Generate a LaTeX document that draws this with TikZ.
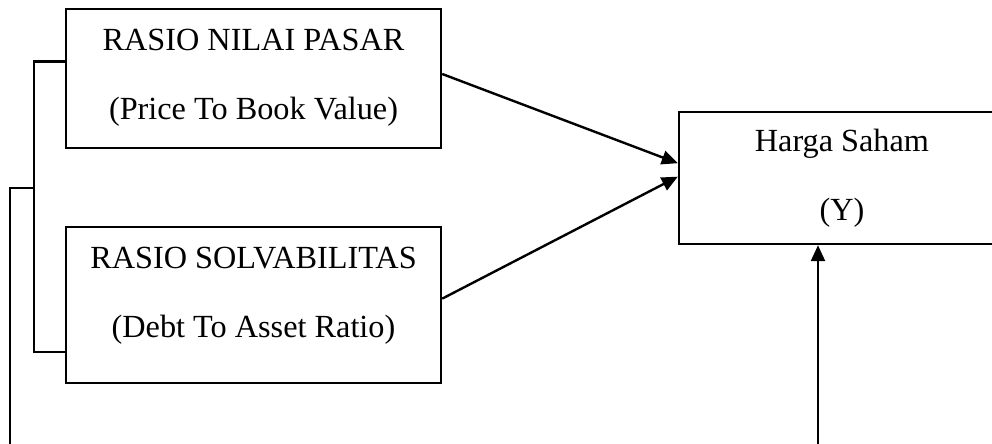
\documentclass[tikz,border=0pt]{standalone}
\usepackage{fontspec}
\setmainfont{Liberation Serif}
\usetikzlibrary{arrows.meta,calc}

\tikzset{every picture/.style={line width=1.8pt}}
\tikzset{
  varbox/.style={draw, rectangle, align=center, inner sep=0.75pt,
    font=\fontsize{24.2}{52}\selectfont},
  flow/.style={-{Triangle[length=12pt,width=10.5pt]}}
}

\begin{document}
\begin{tikzpicture}[x=0.75pt,y=0.75pt,yscale=-1,xscale=1]
\useasboundingbox (0,0) rectangle (992,443);
\clip (0,0) rectangle (992,443);

%Shape: Rectangle [id:pbv]
\node [varbox, minimum width=281.25pt, minimum height=104.25pt, text depth=6pt] (pbv) at (253.5,78.5)
  {RASIO NILAI PASAR\\(Price To Book Value)};
%Shape: Rectangle [id:dar]
\node [varbox, minimum width=281.25pt, minimum height=117pt, text depth=19.5pt] (dar) at (253.5,305)
  {RASIO SOLVABILITAS\\(Debt To Asset Ratio)};
%Shape: Rectangle [id:harga]
\node [varbox, minimum width=244.5pt, minimum height=99pt] (harga) at (842,178)
  {Harga Saham\\(Y)};

%Straight Lines [id:brk]
\coordinate (brkmid) at (35,188);
\coordinate (brkend) at (10,460);
\draw ($(pbv.north west)!0.38!(pbv.south west)$) -- ++(-31,0)
  |- ($(dar.north west)!0.795!(dar.south west)$) ;
\draw (brkmid) -| (brkend) ;

%Straight Lines [id:arrows]
\draw [flow] ($(pbv.north east)!0.468!(pbv.south east)$) -- ($(harga.north west)!0.39!(harga.south west)$) ;
\draw [flow] ($(dar.north east)!0.46!(dar.south east)$) -- ($(harga.north west)!0.49!(harga.south west)$) ;
\coordinate (hargain) at (818,460);
\draw [flow] (hargain) -- (hargain |- harga.south) ;

\end{tikzpicture}
\end{document}
